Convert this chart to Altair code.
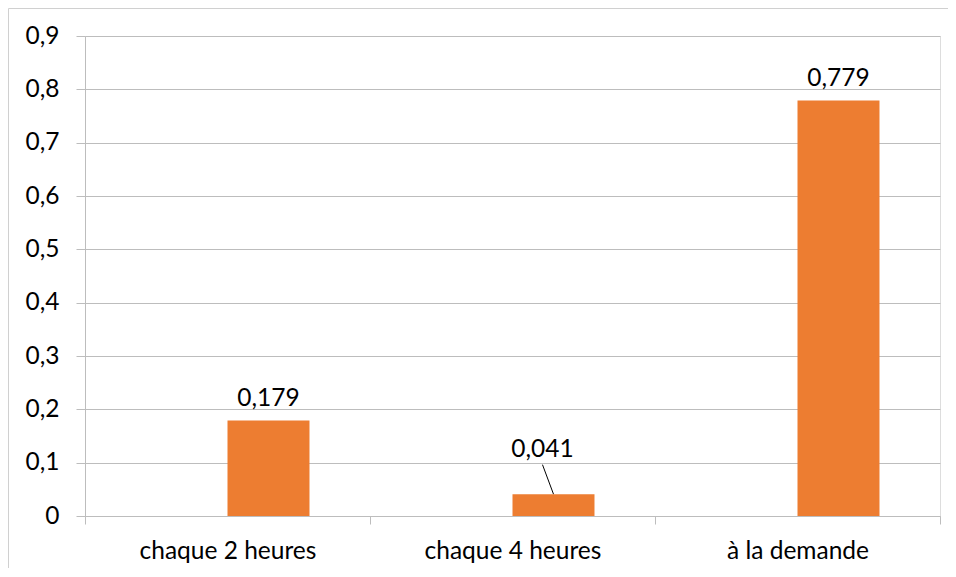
import altair as alt
import pandas as pd

categories = ["chaque 2 heures", "chaque 4 heures", "à la demande"]
values = [0.179, 0.041, 0.779]
labels = ["0,179", "0,041", "0,779"]
series_slots = ["(vide)", "Série 1"]          # Excel cluster: first slot empty
label_y = [0.179, 0.1, 0.779]                  # where each data label sits
leader = [False, True, False]                  # label moved away with a leader line
y_ticks = [0, 0.1, 0.2, 0.3, 0.4, 0.5, 0.6, 0.7, 0.8, 0.9]

df = pd.DataFrame({
    "cat": categories,
    "value": values,
    "label": labels,
    "series": series_slots[1],
    "label_y": label_y,
    "leader": leader,
})

FONT = "Lato"
GRID = "#bdbdbd"
ORANGE = "#ED7D31"
FS = 24.5

x_enc = alt.X(
    "cat:N", sort=categories,
    scale=alt.Scale(paddingInner=0, paddingOuter=0),
    axis=alt.Axis(title=None, labelAngle=0, tickBand="extent", grid=False,
                  domainColor=GRID, tickColor=GRID, tickSize=8,
                  labelFont=FONT, labelFontSize=FS, labelColor="#000000",
                  labelPadding=15),
)
xo_enc = alt.XOffset("series:N", scale=alt.Scale(domain=series_slots, paddingInner=0, paddingOuter=0.738))
y_enc = alt.Y(
    "value:Q",
    scale=alt.Scale(domain=[0, 0.9], nice=False, zero=True),
    axis=alt.Axis(title=None, values=y_ticks, grid=True, gridColor=GRID,
                  tickColor=GRID, tickSize=9, domainColor=GRID,
                  labelFont=FONT, labelFontSize=FS, labelColor="#000000",
                  labelPadding=17,
                  labelExpr="datum.value == 0 ? '0' : replace(format(datum.value, '.1f'), '.', ',')"),
)

base = alt.Chart(df)

bars = base.mark_bar(color=ORANGE).encode(x=x_enc, xOffset=xo_enc, y=y_enc)

text_normal = base.transform_filter("!datum.leader").mark_text(
    font=FONT, fontSize=FS, color="#000000", baseline="alphabetic", dy=-15
).encode(x=alt.X("cat:N", sort=categories), xOffset="series:N", y="label_y:Q", text="label:N")

text_leader = base.transform_filter("datum.leader").mark_text(
    font=FONT, fontSize=FS, color="#000000", baseline="alphabetic", dx=-11, dy=-6
).encode(x=alt.X("cat:N", sort=categories), xOffset="series:N", y="label_y:Q", text="label:N")

leader_rule = base.transform_filter("datum.leader").mark_rule(
    color="#000000", strokeWidth=1, x2Offset=30, y2Offset=2
).encode(x=alt.X("cat:N", sort=categories), x2=alt.X2("cat"), xOffset="series:N",
         y="value:Q", y2="label_y:Q")

frame_data = alt.Data(values=[{"k": 0}])
frame_left = alt.Chart(frame_data).mark_rule(color="#d0d0d0", strokeWidth=1).encode(
    x=alt.value(-76.5), y=alt.value(-27.5), y2=alt.value(560))
frame_top = alt.Chart(frame_data).mark_rule(color="#d0d0d0", strokeWidth=1).encode(
    x=alt.value(-76.5), x2=alt.value(880), y=alt.value(-27.5))

chart = alt.layer(bars, leader_rule, text_normal, text_leader, frame_left, frame_top).properties(
    width=855, height=480,
    autosize=alt.AutoSizeParams(type="none"),
    padding={"left": 77, "top": 28, "right": 8, "bottom": 52},
).configure_view(stroke=None).configure(font=FONT)

chart.save("out.html", embed_options={"renderer": "svg", "actions": False})
